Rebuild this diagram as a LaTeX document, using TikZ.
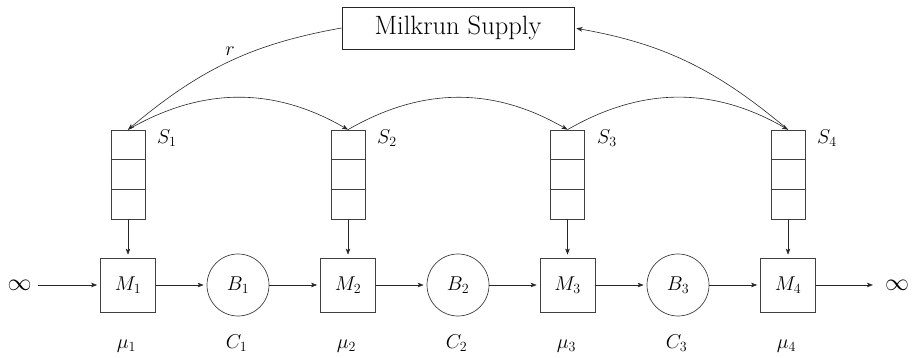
\RequirePackage{fix-cm}
\documentclass[tikz,border=0pt]{standalone}
\usetikzlibrary{arrows.meta,calc}
\begin{document}
\begin{tikzpicture}[x=1pt,y=1pt,
  >={Stealth[length=6pt,width=4.5pt,inset=1.5pt]},
  every node/.style={font=\fontsize{20}{24}\selectfont},
  machine/.style={draw=black!75, line width=0.7pt, minimum width=55pt, minimum height=54pt, inner sep=0pt},
  buffer/.style={circle, draw=black!75, line width=0.7pt, minimum size=62pt, inner sep=0pt},
  store/.style={draw=black!75, line width=0.7pt, minimum width=34pt, minimum height=89pt, inner sep=0pt},
  flow/.style={->, line width=0.6pt, draw=black!85},
  straight/.style={flow, shorten >=3pt},
  inf/.style={font=\fontsize{24}{28}\selectfont}]
\useasboundingbox (0,0) rectangle (912,358);

% Milkrun supply
\node[draw=black!85, line width=0.7pt, minimum width=232pt, minimum height=42pt, inner sep=0pt,
      font=\fontsize{26.5}{30}\selectfont] (ms) at (458,330) {Milkrun Supply};

% storages
\node[store] (s1) at (128,183.5) {};
\node[store] (s2) at (348,183.5) {};
\node[store] (s3) at (567.5,183.5) {};
\node[store] (s4) at (788,183.5) {};
\foreach \s in {s1,s2,s3,s4}{
  \draw[black!75, line width=0.7pt] ($(\s.north west)!1/3!(\s.south west)$) -- ($(\s.north east)!1/3!(\s.south east)$);
  \draw[black!75, line width=0.7pt] ($(\s.north west)!2/3!(\s.south west)$) -- ($(\s.north east)!2/3!(\s.south east)$);
}
\node[anchor=base west, inner sep=0pt] (ls1) at (157,214) {$S_1$};
\node[anchor=base west, inner sep=0pt] (ls2) at (377,214) {$S_2$};
\node[anchor=base west, inner sep=0pt] (ls3) at (597,214) {$S_3$};
\node[anchor=base west, inner sep=0pt] (ls4) at (817,214) {$S_4$};

% line
\node[inf] (inl) at (19.5,73) {$\infty$};
\node[machine] (m1) at (128,73) {$M_1$};
\node[buffer] (b1) at (238,73) {$B_1$};
\node[machine] (m2) at (348,73) {$M_2$};
\node[buffer] (b2) at (458,73) {$B_2$};
\node[machine] (m3) at (567.5,73) {$M_3$};
\node[buffer] (b3) at (678,73) {$B_3$};
\node[machine] (m4) at (788,73) {$M_4$};
\node[inf] (inr) at (897,73) {$\infty$};

% lower labels
\node[anchor=base] (mu1) at (126.5,9) {$\mu_1$};
\node[anchor=base] (c1) at (236.5,9) {$C_1$};
\node[anchor=base] (mu2) at (346.5,9) {$\mu_2$};
\node[anchor=base] (c2) at (456.5,9) {$C_2$};
\node[anchor=base] (mu3) at (566.5,9) {$\mu_3$};
\node[anchor=base] (c3) at (676.5,9) {$C_3$};
\node[anchor=base] (mu4) at (786.5,9) {$\mu_4$};

% flow arrows
\draw[straight, shorten <=3pt] (inl) -- (m1);
\draw[straight] (m1) -- (b1);
\draw[straight] (b1) -- (m2);
\draw[straight] (m2) -- (b2);
\draw[straight] (b2) -- (m3);
\draw[straight] (m3) -- (b3);
\draw[straight] (b3) -- (m4);
\draw[flow, shorten >=8.5pt] (m4) -- (inr);
\foreach \i in {1,2,3,4}{
  \draw[straight] (s\i) -- (m\i);
}

% milkrun connectors
\draw[flow] (ms.west) to[out=190,in=40] (s1.north);
\node[anchor=base] (r) at (230,302) {$r$};
\draw[flow, shorten >=2pt] (s4.north) to[out=140,in=350] (ms.east);
\draw[flow] (s1.north) to[bend left=30] (s2.north);
\draw[flow] (s2.north) to[bend left=30] (s3.north);
\draw[flow] (s3.north) to[bend left=30] (s4.north);
\end{tikzpicture}
\end{document}
